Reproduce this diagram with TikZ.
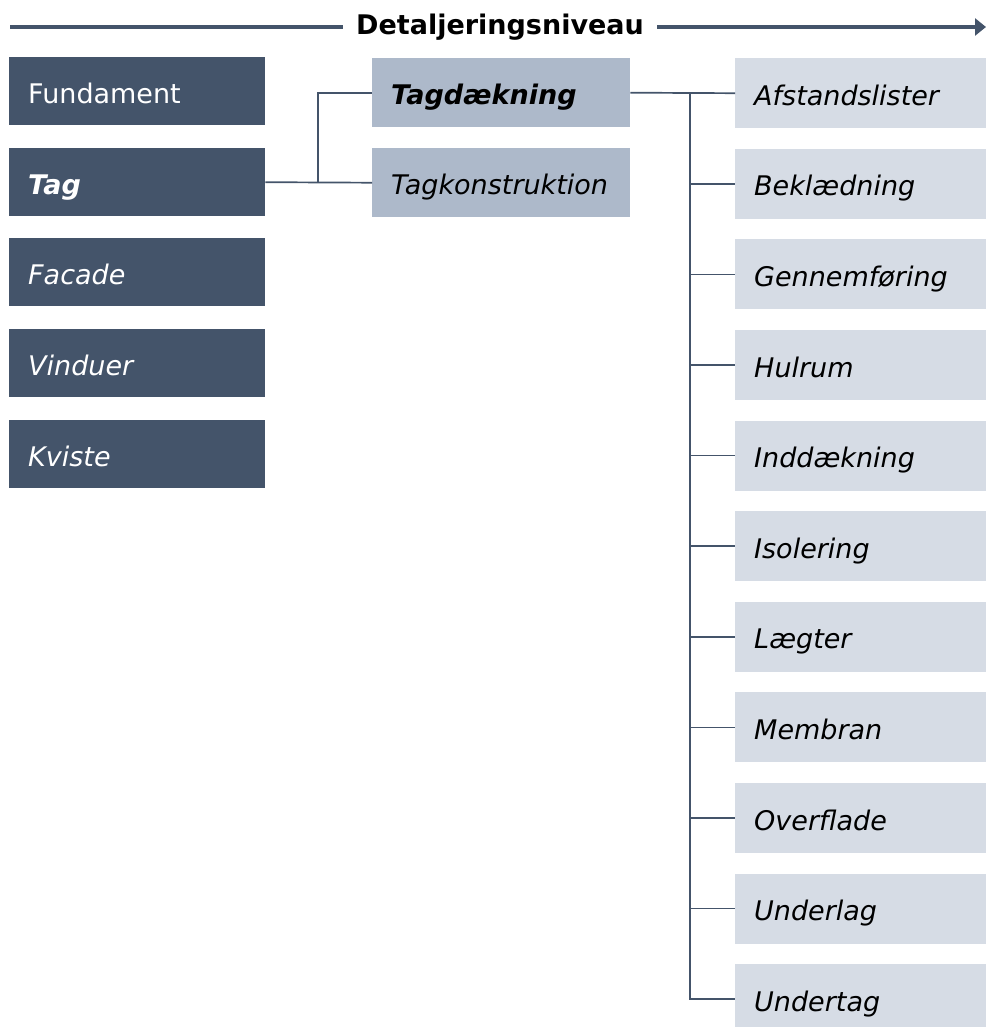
\documentclass[tikz,border=0pt]{standalone}
\usepackage{fontspec}
\setmainfont{DejaVu Sans}
\usetikzlibrary{arrows.meta}
\definecolor{dark}{HTML}{44546A}
\definecolor{mid}{HTML}{ADB9CA}
\definecolor{light}{HTML}{D6DCE5}
\definecolor{linec}{HTML}{44546A}
\begin{document}
\begin{tikzpicture}[x=1pt,y=-1pt,
  box/.style={rectangle, anchor=north west, inner xsep=19pt, inner ysep=0pt,
    align=left, text height=29pt, text depth=5pt,
    font=\fontsize{27}{32}\selectfont},
  lvlone/.style={box, fill=dark, text=white, text width=218pt, minimum height=68pt},
  lvltwo/.style={box, fill=mid, text=black, text width=220pt, minimum height=69pt},
  lvlthree/.style={box, fill=light, text=black, text width=213pt, minimum height=70pt},
  conn/.style={draw=linec, line width=1.7pt},
  titleline/.style={draw=linec, line width=4.5pt}
]
\useasboundingbox (0,0) rectangle (986,1027);

% title
\node[font=\fontsize{27}{32}\selectfont\bfseries, inner xsep=13pt, inner ysep=0pt] (title) at (500,27) {Detaljeringsniveau};
\coordinate (tl) at (10,27);
\coordinate (tr) at (986,27);
\draw[titleline] (tl) -- (title.west);
\draw[titleline, -{Triangle[length=11pt,width=17pt]}] (title.east) -- (tr);

% level 1
\node[lvlone] (fund) at (9,57) {Fundament};
\node[lvlone] (tag) at (9,148) {\itshape\bfseries Tag};
\node[lvlone] (fac) at (9,238) {\itshape Facade};
\node[lvlone] (vin) at (9,329) {\itshape Vinduer};
\node[lvlone] (kvi) at (9,420) {\itshape Kviste};

% level 2
\node[lvltwo] (tagd) at (372,58) {\itshape\bfseries Tagdækning};
\node[lvltwo] (tagk) at (372,148) {\itshape Tagkonstruktion};

% level 3
\node[lvlthree] (r1) at (735,58) {\itshape Afstandslister};
\node[lvlthree] (r2) at (735,148.6) {\itshape Beklædning};
\node[lvlthree] (r3) at (735,239.2) {\itshape Gennemføring};
\node[lvlthree] (r4) at (735,329.8) {\itshape Hulrum};
\node[lvlthree] (r5) at (735,420.4) {\itshape Inddækning};
\node[lvlthree] (r6) at (735,511) {\itshape Isolering};
\node[lvlthree] (r7) at (735,601.6) {\itshape Lægter};
\node[lvlthree] (r8) at (735,692.2) {\itshape Membran};
\node[lvlthree] (r9) at (735,782.8) {\itshape Overflade};
\node[lvlthree] (r10) at (735,873.4) {\itshape Underlag};
\node[lvlthree] (r11) at (735,964) {\itshape Undertag};

% connectors level 1 -> 2
\coordinate (ja) at (318,182);
\draw[conn] (tag.east) -- (tagk.west);
\draw[conn] (ja) |- (tagd.west);

% connectors level 2 -> 3
\coordinate (jb) at (690,93);
\draw[conn] (tagd.east) -- (r1.west);
\draw[conn] (jb) |- (r11.west);
\foreach \n in {r2,r3,r4,r5,r6,r7,r8,r9,r10}{
  \draw[conn] (jb |- \n.west) -- (\n.west);
}
\end{tikzpicture}
\end{document}
